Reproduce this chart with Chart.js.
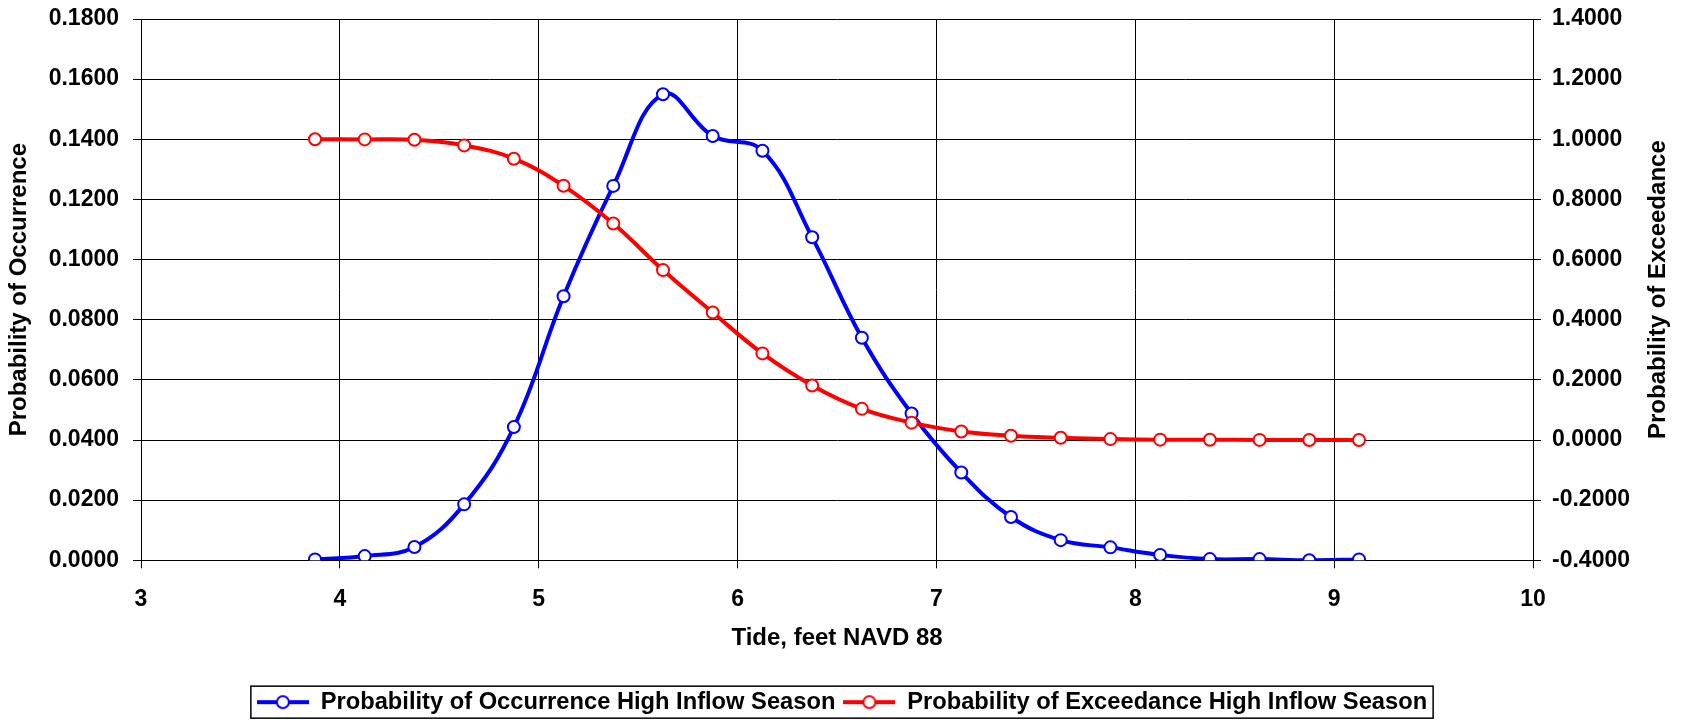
<!DOCTYPE html>
<html>
<head>
<meta charset="utf-8">
<script src="https://cdn.jsdelivr.net/npm/chart.js@4.4.1/dist/chart.umd.min.js"></script>
<style>
  html, body { margin: 0; padding: 0; background: #fff; }
</style>
</head>
<body>
<canvas id="tideChart" width="1684" height="720"></canvas>
<script>
// tide elevation bins (feet NAVD 88)
const tide = [3.875, 4.125, 4.375, 4.625, 4.875, 5.125, 5.375, 5.625, 5.875, 6.125, 6.375,
              6.625, 6.875, 7.125, 7.375, 7.625, 7.875, 8.125, 8.375, 8.625, 8.875, 9.125];
const occurrence = [0.0003, 0.0014, 0.0044, 0.0186, 0.0443, 0.0878, 0.1245, 0.1550, 0.1411, 0.1362, 0.1074,
                    0.0740, 0.0488, 0.0292, 0.0144, 0.0067, 0.0043, 0.0018, 0.0004, 0.0004, 0.0000, 0.0003];
const exceedance = [1.0000, 0.9997, 0.9983, 0.9797, 0.9354, 0.8453, 0.7200, 0.5650, 0.4240, 0.2880, 0.1815,
                    0.1036, 0.0577, 0.0285, 0.0141, 0.0073, 0.0030, 0.0012, 0.0008, 0.0004, 0.0000, 0.0000];
const seriesNames = ['Probability of Occurrence High Inflow Season', 'Probability of Exceedance High Inflow Season'];

const FONT = "'Liberation Sans', Arial, sans-serif";

// fix -0.0000 from float steps
const fmt4 = v => (Math.abs(v) < 1e-9 ? 0 : v).toFixed(4);

// little line + circle sample for the legend
function legendMark(color) {
    const c = document.createElement('canvas');
    c.width = 52; c.height = 16;
    const g = c.getContext('2d');
    g.strokeStyle = color;
    g.lineWidth = 4;
    g.beginPath(); g.moveTo(0, 8); g.lineTo(52, 8); g.stroke();
    g.beginPath(); g.arc(26, 8, 6, 0, Math.PI * 2);
    g.fillStyle = '#fff'; g.fill();
    g.lineWidth = 2; g.stroke();
    return c;
}

// y axes: keep the plot box where the layout padding puts it
function fixY(width) {
    return function (s) {
        s.width = width;
        s.paddingTop = 0;
        s.paddingBottom = 0;
    };
}

// box around legend + right axis title reading bottom-up
const extras = {
    id: 'extras',
    afterDraw(chart) {
        const ctx = chart.ctx;
        const lg = chart.legend;
        if (lg && lg.legendHitBoxes.length) {
            const hb = lg.legendHitBoxes;
            const l = hb[0].left - 6;
            const r = hb[hb.length - 1].left + hb[hb.length - 1].width + 6;
            const cy = hb[0].top + hb[0].height / 2;
            ctx.save();
            ctx.strokeStyle = '#000';
            ctx.lineWidth = 1.5;
            ctx.strokeRect(l, cy - 16, r - l, 32);
            ctx.restore();
        }
        const area = chart.chartArea;
        ctx.save();
        ctx.translate(1658, (area.top + area.bottom) / 2);
        ctx.rotate(-Math.PI / 2);
        ctx.font = 'bold 24px ' + FONT;
        ctx.fillStyle = '#000';
        ctx.textAlign = 'center';
        ctx.textBaseline = 'middle';
        ctx.fillText('Probability of Exceedance', 0, 0);
        ctx.restore();
    }
};

const ctx = document.getElementById('tideChart').getContext('2d');
const chart = new Chart(ctx, {
    type: 'line',
    data: {
        datasets: [{
            label: seriesNames[0],
            data: tide.map((t, i) => ({x: t, y: occurrence[i]})),
            yAxisID: 'y',
            borderColor: '#0000ff',
            borderWidth: 4,
            pointRadius: 6,
            pointBorderWidth: 2,
            pointBackgroundColor: '#fff',
            pointBorderColor: '#0000ff',
            tension: 0.4,
            order: 1
        }, {
            label: seriesNames[1],
            data: tide.map((t, i) => ({x: t, y: exceedance[i]})),
            yAxisID: 'y2',
            borderColor: '#ff0000',
            borderWidth: 4,
            pointRadius: 6,
            pointBorderWidth: 2,
            pointBackgroundColor: '#fff',
            pointBorderColor: '#ff0000',
            tension: 0.4,
            order: 0
        }]
    },
    options: {
        responsive: false,
        animation: false,
        layout: { padding: { top: 19, left: 0, right: 0, bottom: -4 } },
        plugins: {
            tooltip: { enabled: false },
            legend: {
                position: 'bottom',
                labels: {
                    usePointStyle: true,
                    pointStyleWidth: 52,
                    padding: 8,
                    color: '#000',
                    font: { family: FONT, size: 23.7, weight: 'bold' },
                    generateLabels: () => [
                        { text: seriesNames[0], pointStyle: legendMark('#0000ff'), fillStyle: '#fff', strokeStyle: '#0000ff', lineWidth: 0, hidden: false, datasetIndex: 0 },
                        { text: seriesNames[1], pointStyle: legendMark('#ff0000'), fillStyle: '#fff', strokeStyle: '#ff0000', lineWidth: 0, hidden: false, datasetIndex: 1 }
                    ]
                }
            }
        },
        scales: {
            x: {
                type: 'linear',
                min: 3, max: 10,
                afterFit(s) { s.height = 122; },
                ticks: { stepSize: 1, padding: 18, color: '#000', font: { family: FONT, size: 23, weight: 'bold' } },
                grid: { color: '#000', lineWidth: 1, tickLength: 8 },
                border: { color: '#000', width: 1 },
                title: {
                    display: true, text: 'Tide, feet NAVD 88', color: '#000',
                    font: { family: FONT, size: 24, weight: 'bold' },
                    padding: { top: 0, bottom: 30 }
                }
            },
            y: {
                position: 'left',
                min: 0, max: 0.18,
                afterFit: fixY(141),
                ticks: { stepSize: 0.02, padding: 14, color: '#000', callback: fmt4,
                         font: { family: FONT, size: 23, weight: 'bold' } },
                grid: { color: '#000', lineWidth: 1, tickLength: 8 },
                border: { color: '#000', width: 1 },
                title: {
                    display: true, text: 'Probability of Occurrence', color: '#000',
                    font: { family: FONT, size: 24, weight: 'bold' },
                    padding: { top: 5, bottom: 0 }
                }
            },
            y2: {
                position: 'right',
                min: -0.4, max: 1.4,
                afterFit: fixY(151),
                ticks: { stepSize: 0.2, padding: 11, color: '#000', callback: fmt4,
                         font: { family: FONT, size: 23, weight: 'bold' } },
                grid: { drawOnChartArea: false, color: '#000', tickLength: 8 },
                border: { color: '#000', width: 1 }
            }
        }
    },
    plugins: [extras]
});
</script>
</body>
</html>
